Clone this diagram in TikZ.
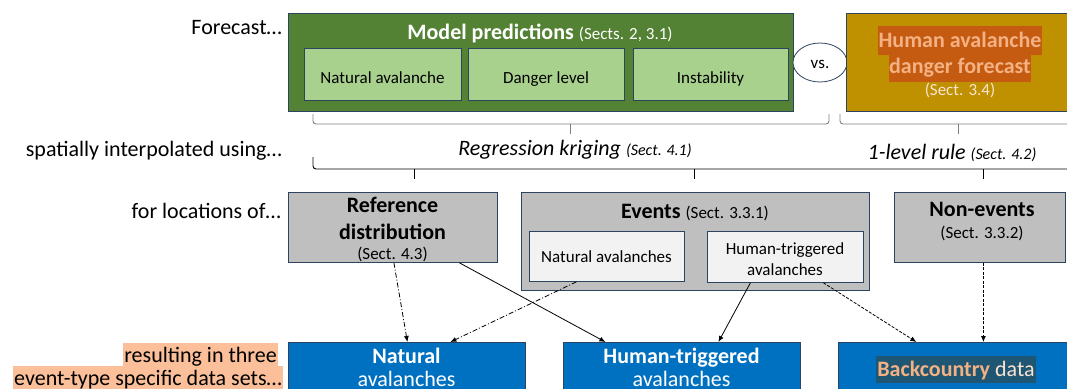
\documentclass[tikz,border=0pt]{standalone}
\usepackage{fontspec}
\setmainfont{Carlito}
\usetikzlibrary{arrows.meta,shapes.geometric}
\definecolor{bordc}{HTML}{2E4360}
\definecolor{gfill}{HTML}{548235}
\definecolor{lgfill}{HTML}{A9D18E}
\definecolor{goldf}{HTML}{BF9000}
\definecolor{greyf}{HTML}{BFBFBF}
\definecolor{lgreyf}{HTML}{F2F2F2}
\definecolor{bluef}{HTML}{0070C0}
\definecolor{peach}{HTML}{F4B183}
\definecolor{lpeach}{HTML}{FBE3D2}
\definecolor{rust}{HTML}{C55A11}
\definecolor{hlorange}{HTML}{FBC09A}
\definecolor{tealhl}{HTML}{1F5673}
\definecolor{brgrey}{HTML}{7F7F7F}
\newcommand\szA{\fontsize{22}{26}\selectfont}
\newcommand\szB{\fontsize{17}{20}\selectfont}
\newcommand\szC{\fontsize{16}{19}\selectfont}
\begin{document}
\begin{tikzpicture}[x=1pt,y=-1pt,
  box/.style={draw=bordc, line width=0.8pt, inner sep=0pt, anchor=north west},
  txt/.style={anchor=base, inner sep=0pt},
  lab/.style={anchor=base east, inner sep=0pt, font=\szA},
  hlbox/.style={fill=hlorange, inner xsep=1pt, inner ysep=2pt, text height=17pt, text depth=4.5pt, anchor=base east, font=\szA},
  gbr/.style={draw=brgrey, line width=0.9pt},
  bbr/.style={draw=black, line width=0.9pt},
  arr/.style={line width=0.8pt, -{Latex[length=6pt,width=5pt]}},
  dashdot/.style={dash pattern=on 5pt off 2pt on 1pt off 2pt},
  dsh/.style={dash pattern=on 3pt off 1.5pt}
]
\useasboundingbox (0,0) rectangle (1067,388);

% left labels
\node[lab] (l1) at (282,34) {Forecast…};
\node[lab] (l2) at (282,156) {spatially interpolated using…};
\node[lab] (l3) at (281,218) {for locations of…};
\node[hlbox] (l4) at (278,362) {resulting in three};
\node[hlbox] (l5) at (283,385) {event-type specific data sets…};

% model predictions
\node[box, fill=gfill, minimum width=505, minimum height=98] (mp) at (288,13) {};
\node[txt, text=white, font=\szA] (mpt) at (540,39) {{\bfseries Model predictions} {\szB(Sects. 2, 3.1)}};
\node[box, fill=lgfill, minimum width=157, minimum height=52] (mna) at (304,48) {};
\node[box, fill=lgfill, minimum width=156, minimum height=52] (mdl) at (468,48) {};
\node[box, fill=lgfill, minimum width=155, minimum height=52] (mins) at (633,48) {};
\node[txt, font=\szB] (mnat) at (382.5,83) {Natural avalanche};
\node[txt, font=\szB] (mdlt) at (546,83) {Danger level};
\node[txt, font=\szB] (minst) at (710.5,83) {Instability};

% vs
\node[ellipse, draw=bordc, line width=0.8pt, fill=white, minimum width=54, minimum height=39, inner sep=0pt] (vs) at (820,62.5) {};
\node[txt, font=\szB] (vst) at (820,68) {vs.};

% human forecast
\node[box, fill=goldf, minimum width=232, minimum height=98] (hf) at (846,13) {};
\node[txt, fill=rust, text=peach, font=\szA\bfseries, inner xsep=0.5pt, inner ysep=3pt, text height=18pt, text depth=5pt] (hf1) at (960,47) {Human avalanche};
\node[txt, fill=rust, text=peach, font=\szA\bfseries, inner xsep=0.5pt, inner ysep=3pt, text height=18pt, text depth=5pt] (hf2) at (960,73.5) {danger forecast};
\node[txt, text=lpeach, font=\szB] (hf3) at (960,95) {(Sect. 3.4)};

% braces
\draw[gbr, rounded corners=3pt] (313,114) -- (313,124) -- (829,124) -- (829,114);
\draw[gbr] (570,124) -- (570,134);
\draw[gbr, rounded corners=3pt] (840,114) -- (840,124) -- (1080,124);
\draw[gbr] (958,124) -- (958,134);

\node[txt, font=\szA\itshape] (rk) at (575,155) {Regression kriging {\szC(Sect. 4.1)}};
\node[txt, font=\szA\itshape] (lr) at (952,159) {1-level rule {\szC(Sect. 4.2)}};

\draw[bbr, rounded corners=3pt] (313,157) -- (313,169) -- (1080,169);
\draw[bbr] (414,169) -- (414,179);
\draw[bbr] (694,169) -- (694,179);
\draw[bbr] (983,169) -- (983,179);

% locations
\node[box, fill=greyf, minimum width=209, minimum height=70] (ref) at (288,192) {};
\node[txt, font=\szA\bfseries] (ref1) at (392.5,212) {Reference};
\node[txt, font=\szA\bfseries] (ref2) at (392.5,239) {distribution};
\node[txt, font=\szB] (ref3) at (392.5,259) {(Sect. 4.3)};

\node[box, fill=greyf, minimum width=348, minimum height=98] (ev) at (521,192) {};
\node[txt, font=\szA] (evt) at (695,218) {{\bfseries Events} {\szB(Sect. 3.3.1)}};
\node[box, fill=lgreyf, minimum width=155, minimum height=50] (natav) at (529,231) {};
\node[txt, font=\szB] (natavt) at (606.5,262) {Natural avalanches};
\node[box, fill=lgreyf, minimum width=156, minimum height=51] (humav) at (707,231) {};
\node[txt, font=\szB] (humav1) at (785,254) {Human-triggered};
\node[txt, font=\szB] (humav2) at (785,275) {avalanches};

\node[box, fill=greyf, minimum width=171, minimum height=70] (nonev) at (894,192) {};
\node[txt, font=\szA\bfseries] (nonev1) at (982,216) {Non-events};
\node[txt, font=\szB] (nonev2) at (982,238) {(Sect. 3.3.2)};

% results
\node[box, fill=bluef, minimum width=237, minimum height=60] (natb) at (288,342) {};
\node[txt, text=white, font=\szA\bfseries] (natb1) at (406.5,363) {Natural};
\node[txt, text=white, font=\szA] (natb2) at (406.5,386) {avalanches};
\node[box, fill=bluef, minimum width=237, minimum height=60] (humb) at (563,342) {};
\node[txt, text=white, font=\szA\bfseries] (humb1) at (681.5,363) {Human-triggered};
\node[txt, text=white, font=\szA] (humb2) at (681.5,386) {avalanches};
\node[box, fill=bluef, minimum width=240, minimum height=60] (bcb) at (838,342) {};
\node[txt, fill=tealhl, font=\szA, inner xsep=1pt, inner ysep=3pt, text height=17pt, text depth=4pt] (bct) at (956,376) {\textcolor{peach}{\bfseries Backcountry} \textcolor{lpeach}{data}};

% connectors
\draw[arr, dashdot] ([xshift=1pt]ref.south) -- ([xshift=0.5pt]natb.north);
\draw[arr, dashdot] ([xshift=-30.5pt]natav.south) -- ([xshift=43.5pt]natb.north);
\draw[arr] ([xshift=66.5pt]ref.south) -- ([xshift=-76.5pt]humb.north);
\draw[arr] ([xshift=-35pt]humav.south) -- ([xshift=36.5pt]humb.north);
\draw[arr, dsh] ([xshift=38pt]humav.south) -- ([xshift=-42pt]bcb.north);
\draw[arr, dsh] ([xshift=3.5pt]nonev.south) -- ([xshift=3.5pt]nonev.south |- bcb.north);
\end{tikzpicture}
\end{document}
